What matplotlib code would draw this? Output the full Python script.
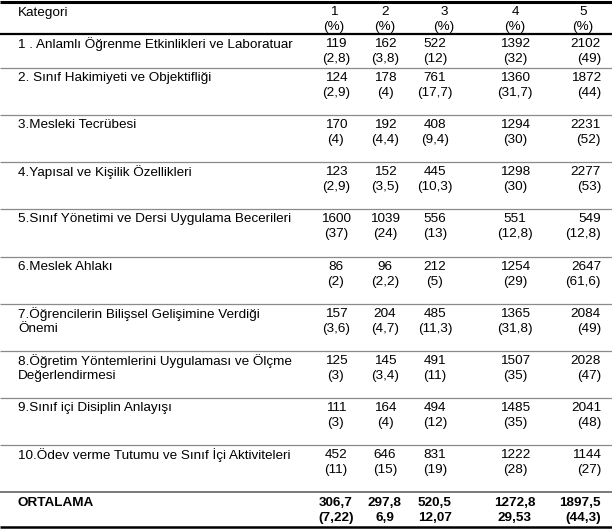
import matplotlib
matplotlib.use("Agg")
import matplotlib.pyplot as plt

categories = [
    "1 . Anlamlı Öğrenme Etkinlikleri ve Laboratuar",
    "2. Sınıf Hakimiyeti ve Objektifliği",
    "3.Mesleki Tecrübesi",
    "4.Yapısal ve Kişilik Özellikleri",
    "5.Sınıf Yönetimi ve Dersi Uygulama Becerileri",
    "6.Meslek Ahlakı",
    "7.Öğrencilerin Bilişsel Gelişimine Verdiği\nÖnemi",
    "8.Öğretim Yöntemlerini Uygulaması ve Ölçme\nDeğerlendirmesi",
    "9.Sınıf içi Disiplin Anlayışı",
    "10.Ödev verme Tutumu ve Sınıf İçi Aktiviteleri",
]
col_headers = ["1", "2", "3", "4", "5"]

n1 = [119, 124, 170, 123, 1600, 86, 157, 125, 111, 452]
p1 = [2.8, 2.9, 4, 2.9, 37, 2, 3.6, 3, 3, 11]
n2 = [162, 178, 192, 152, 1039, 96, 204, 145, 164, 646]
p2 = [3.8, 4, 4.4, 3.5, 24, 2.2, 4.7, 3.4, 4, 15]
n3 = [522, 761, 408, 445, 556, 212, 485, 491, 494, 831]
p3 = [12, 17.7, 9.4, 10.3, 13, 5, 11.3, 11, 12, 19]
n4 = [1392, 1360, 1294, 1298, 551, 1254, 1365, 1507, 1485, 1222]
p4 = [32, 31.7, 30, 30, 12.8, 29, 31.8, 35, 35, 28]
n5 = [2102, 1872, 2231, 2277, 549, 2647, 2084, 2028, 2041, 1144]
p5 = [49, 44, 52, 53, 12.8, 61.6, 49, 47, 48, 27]

mean_label = "ORTALAMA"
mean_n = [306.7, 297.8, 520.5, 1272.8, 1897.5]
mean_p = ["(7,22)", "6,9", "12,07", "29,53", "(44,3)"]


def fmt(v):
    if float(v).is_integer():
        return str(int(v))
    return str(v).replace(".", ",")


counts = [n1, n2, n3, n4, n5]
pcts = [p1, p2, p3, p4, p5]

plt.rcParams["font.family"] = ["Liberation Sans", "DejaVu Sans"]
fs = 9.7

fig = plt.figure(figsize=(6.12, 5.29), dpi=100)
ax = fig.add_axes([0, 0, 1, 1])
ax.set_xlim(0, 612)
ax.set_ylim(529, 0)
ax.axis("off")

# layout (pixels)
label_x = 18
col_x = [336, 385, 435, 515, 601]
col_ha = ["center", "center", "center", "center", "right"]
head_x = [334, 385, 444, 515, 583]
row_tops = [34, 68, 115, 162, 209, 257, 304, 351, 398, 445, 492]
bottom = 527
dy1, dy2 = 10, 25

# rules
ax.plot([0, 612], [1.5, 1.5], color="black", lw=2.2, solid_capstyle="butt")
ax.plot([0, 612], [34, 34], color="black", lw=1.6, solid_capstyle="butt")
for y in row_tops[1:-1]:
    ax.plot([0, 612], [y, y], color="#8a8a8a", lw=0.9, solid_capstyle="butt")
ax.plot([0, 612], [row_tops[-1], row_tops[-1]], color="#707070", lw=1.3, solid_capstyle="butt")
ax.plot([0, 612], [bottom, bottom], color="black", lw=1.8, solid_capstyle="butt")

# header
ax.text(label_x, 13, "Kategori", fontsize=fs, va="center", ha="left")
for j, h in enumerate(col_headers):
    ax.text(head_x[j], 12, h, fontsize=fs, va="center", ha="center")
    ax.text(head_x[j], 27, "(%)", fontsize=fs, va="center", ha="center")

# body
for i, cat in enumerate(categories):
    top = row_tops[i]
    for k, line in enumerate(cat.split("\n")):
        ax.text(label_x, top + dy1 + 15 * k, line, fontsize=fs, va="center", ha="left")
    for j in range(5):
        ax.text(col_x[j], top + dy1, fmt(counts[j][i]), fontsize=fs, va="center", ha=col_ha[j])
        ax.text(col_x[j], top + dy2, "(" + fmt(pcts[j][i]) + ")", fontsize=fs, va="center", ha=col_ha[j])

# mean row
top = row_tops[-1]
ax.text(label_x, top + 11, mean_label, fontsize=fs, va="center", ha="left", fontweight="bold")
for j in range(5):
    ax.text(col_x[j], top + 11, fmt(mean_n[j]), fontsize=fs, va="center", ha=col_ha[j], fontweight="bold")
    ax.text(col_x[j], top + 26, mean_p[j], fontsize=fs, va="center", ha=col_ha[j], fontweight="bold")

fig.savefig("out.png", dpi=100)
